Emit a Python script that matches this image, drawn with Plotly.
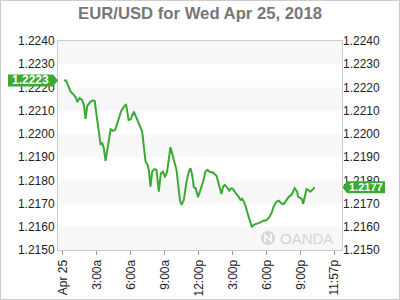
import plotly.graph_objects as go

# ---------------- data ----------------
times = ["00:05", "00:17", "00:26", "00:41", "00:58", "01:10", "01:16", "01:28", "01:41", "01:51",
         "02:00", "02:09", "02:25", "02:35", "02:48", "03:02", "03:14", "03:20", "03:28", "03:37",
         "03:46", "03:58", "04:13", "04:25", "04:37", "04:51", "05:09", "05:27", "05:35", "05:48",
         "05:59", "06:16", "06:35", "06:48", "07:00", "07:09", "07:18", "07:29", "07:35", "07:44",
         "07:53", "08:04", "08:16", "08:28", "08:39", "08:51", "09:00", "09:12", "09:21", "09:30",
         "09:41", "09:53", "10:02", "10:11", "10:20", "10:29", "10:41", "10:55", "11:07", "11:16",
         "11:25", "11:34", "11:44", "11:56", "12:09", "12:23", "12:35", "12:46", "12:58", "13:16",
         "13:34", "13:43", "13:51", "14:00", "14:09", "14:18", "14:30", "14:41", "14:53", "15:02",
         "15:16", "15:28", "15:41", "15:50", "15:59", "16:09", "16:21", "16:34", "16:42", "16:51",
         "17:06", "17:23", "17:41", "17:59", "18:12", "18:25", "18:37", "18:51", "19:05", "19:18",
         "19:30", "19:44", "19:58", "20:11", "20:19", "20:28", "20:41", "20:46", "20:59", "21:07",
         "21:13", "21:22", "21:31", "21:39", "21:52", "22:05", "22:14"]
prices = [1.22230, 1.22230, 1.22211, 1.22182, 1.22168, 1.22154, 1.22137, 1.22154, 1.22147, 1.22125,
          1.22065, 1.22121, 1.22137, 1.22144, 1.22142, 1.22060, 1.21996, 1.21953, 1.21962, 1.21938,
          1.21884, 1.21945, 1.22020, 1.22013, 1.22017, 1.22053, 1.22099, 1.22121, 1.22125, 1.22060,
          1.22063, 1.22096, 1.22060, 1.22031, 1.22010, 1.21945, 1.21880, 1.21866, 1.21845, 1.21773,
          1.21837, 1.21848, 1.21845, 1.21751, 1.21830, 1.21837, 1.21813, 1.21837, 1.21902, 1.21943,
          1.21909, 1.21866, 1.21845, 1.21780, 1.21716, 1.21694, 1.21716, 1.21794, 1.21837, 1.21852,
          1.21823, 1.21770, 1.21766, 1.21727, 1.21759, 1.21794, 1.21837, 1.21845, 1.21837, 1.21833,
          1.21820, 1.21788, 1.21773, 1.21741, 1.21773, 1.21780, 1.21770, 1.21756, 1.21766, 1.21762,
          1.21744, 1.21733, 1.21716, 1.21720, 1.21708, 1.21687, 1.21651, 1.21615, 1.21598, 1.21608,
          1.21612, 1.21618, 1.21625, 1.21629, 1.21639, 1.21658, 1.21687, 1.21708, 1.21712, 1.21700,
          1.21698, 1.21716, 1.21730, 1.21737, 1.21751, 1.21766, 1.21751, 1.21730, 1.21723, 1.21719,
          1.21698, 1.21737, 1.21762, 1.21759, 1.21751, 1.21762, 1.21770]

day = "2018-04-25"
x_tick_vals = ["2018-04-25 00:00", "2018-04-25 03:00", "2018-04-25 06:00", "2018-04-25 09:00",
               "2018-04-25 12:00", "2018-04-25 15:00", "2018-04-25 18:00", "2018-04-25 21:00",
               "2018-04-25 23:57"]
x_tick_text = ["Apr 25", "3:00a", "6:00a", "9:00a", "12:00p", "3:00p", "6:00p", "9:00p", "11:57p"]
x_range = ["2018-04-24 23:34", "2018-04-26 00:39"]
y_ticks = [1.2150, 1.2160, 1.2170, 1.2180, 1.2190, 1.2200, 1.2210, 1.2220, 1.2230, 1.2240]
title_text = "EUR/USD for Wed Apr 25, 2018"
watermark = "OANDA"

# ---------------- style ----------------
W, H = 400, 300
ML, MR, MT, MB = 58, 58, 41, 50
GREEN = "#3aaa35"
FONT = "Liberation Sans, Arial, sans-serif"
PW = W - ML - MR
PH = H - MT - MB

xs = [f"{day} {t}" for t in times]

fig = go.Figure()
fig.add_trace(go.Scatter(x=xs, y=prices, mode="lines",
                         line=dict(color=GREEN, width=2), hoverinfo="skip", showlegend=False))
fig.add_trace(go.Scatter(x=xs, y=prices, mode="lines", yaxis="y2",
                         line=dict(color="rgba(0,0,0,0)", width=0), hoverinfo="skip", showlegend=False))

shapes = []
# alternating bands
for i in range(0, len(y_ticks) - 1, 2):
    shapes.append(dict(type="rect", xref="paper", yref="y", x0=0, x1=1,
                       y0=y_ticks[i], y1=y_ticks[i + 1], fillcolor="#f7f7f7",
                       line=dict(width=0), layer="below"))

# watermark icon
shapes.append(dict(type="circle", xref="paper", yref="paper", xsizemode="pixel", ysizemode="pixel",
                   xanchor=1, yanchor=0, x0=-81, x1=-67, y0=5, y1=19,
                   fillcolor="#d8d8d8", line=dict(width=0), layer="below"))
shapes.append(dict(type="path", xref="paper", yref="paper", xsizemode="pixel", ysizemode="pixel",
                   xanchor=1, yanchor=0, path="M -77 8 L -77 15 L -71 9 L -71 16",
                   line=dict(color="white", width=1.5), layer="below"))

# price tags
first, last = prices[0], prices[-1]
shapes.append(dict(type="path", xref="paper", yref="y", xsizemode="pixel", ysizemode="pixel",
                   xanchor=0, yanchor=first,
                   path="M -50 -6 L -5 -6 L 0 0 L -5 6 L -50 6 Z",
                   fillcolor=GREEN, line=dict(width=0), layer="above"))
shapes.append(dict(type="path", xref="paper", yref="y", xsizemode="pixel", ysizemode="pixel",
                   xanchor=1, yanchor=last,
                   path="M 0.5 0 L 5 -6 L 43 -6 L 43 6 L 5 6 Z",
                   fillcolor=GREEN, line=dict(width=0), layer="above"))
# outer border
shapes.append(dict(type="rect", xref="paper", yref="paper", xsizemode="pixel", ysizemode="pixel",
                   xanchor=0, yanchor=0,
                   x0=-ML + 0.5, x1=PW + MR - 0.5, y0=-MB + 0.5, y1=PH + MT - 0.5,
                   line=dict(color="#cccccc", width=1), fillcolor="rgba(0,0,0,0)"))

annotations = [
    dict(xref="paper", yref="y", x=0, y=first, xshift=-28, text=f"<b>{first:.4f}</b>",
         showarrow=False, font=dict(family=FONT, size=12, color="white"), xanchor="center"),
    dict(xref="paper", yref="y", x=1, y=last, xshift=24, text=f"<b>{last:.4f}</b>",
         showarrow=False, font=dict(family=FONT, size=11, color="white"), xanchor="center"),
    dict(xref="paper", yref="paper", x=1, y=0, xshift=-7, yshift=12, text=watermark, showarrow=False,
         xanchor="right", yanchor="middle",
         font=dict(family=FONT, size=15, color="#d4d4d4")),
]

axis_font = dict(family=FONT, size=12, color="#222222")

fig.update_layout(
    width=W, height=H,
    margin=dict(l=ML, r=MR, t=MT, b=MB, autoexpand=False),
    paper_bgcolor="white", plot_bgcolor="white",
    title=dict(text=f"<b>{title_text}</b>", x=0.5, xanchor="center", y=1 - 13 / H, yanchor="middle",
               font=dict(family=FONT, size=16.7, color="#777777")),
    xaxis=dict(type="date", range=x_range, tickvals=x_tick_vals, ticktext=x_tick_text,
               tickangle=-90, tickfont=axis_font, ticks="outside", ticklen=4, tickcolor="#999999",
               showgrid=False, zeroline=False, showline=True, linecolor="#cccccc", mirror=True,
               automargin=False),
    yaxis=dict(range=[y_ticks[0], y_ticks[-1]], tickvals=y_ticks, tickformat=".4f",
               tickfont=axis_font, showgrid=False, zeroline=False, ticks="",
               showline=True, linecolor="#cccccc", mirror=True, automargin=False),
    yaxis2=dict(range=[y_ticks[0], y_ticks[-1]], tickvals=y_ticks, tickformat=".4f",
                tickfont=axis_font, overlaying="y", side="right", showgrid=False,
                zeroline=False, ticks="", showline=False, automargin=False),
    shapes=shapes,
    annotations=annotations,
    showlegend=False,
)

fig.write_html("out.html")
